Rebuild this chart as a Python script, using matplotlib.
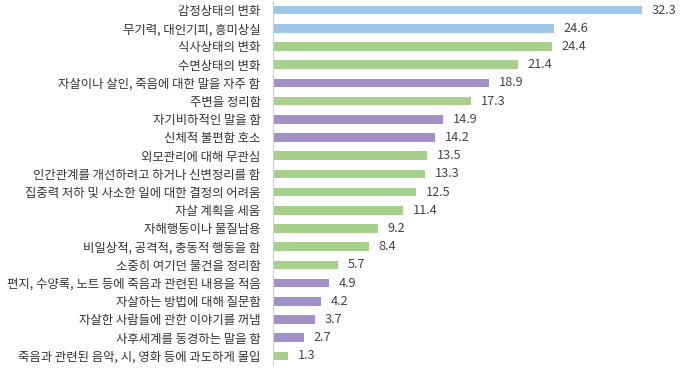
import numpy as np
import matplotlib.pyplot as plt

plt.rcParams['font.family'] = ['Noto Sans CJK KR', 'DejaVu Sans']

# 항목 (위에서 아래 순서)
labels = ['감정상태의 변화', '무기력, 대인기피, 흥미상실', '식사상태의 변화', '수면상태의 변화',
          '자살이나 살인, 죽음에 대한 말을 자주 함', '주변을 정리함', '자기비하적인 말을 함',
          '신체적 불편함 호소', '외모관리에 대해 무관심', '인간관계를 개선하려고 하거나 신변정리를 함',
          '집중력 저하 및 사소한 일에 대한 결정의 어려움', '자살 계획을 세움', '자해행동이나 물질남용',
          '비일상적, 공격적, 충동적 행동을 함', '소중히 여기던 물건을 정리함',
          '편지, 수양록, 노트 등에 죽음과 관련된 내용을 적음', '자살하는 방법에 대해 질문함',
          '자살한 사람들에 관한 이야기를 꺼냄', '사후세계를 동경하는 말을 함',
          '죽음과 관련된 음악, 시, 영화 등에 과도하게 몰입']
values = [32.3, 24.6, 24.4, 21.4, 18.9, 17.3, 14.9, 14.2, 13.5, 13.3,
          12.5, 11.4, 9.2, 8.4, 5.7, 4.9, 4.2, 3.7, 2.7, 1.3]
groups = ['감정', '감정', '행동', '행동', '언어', '행동', '언어', '언어', '행동', '행동',
          '행동', '행동', '행동', '행동', '행동', '언어', '언어', '언어', '언어', '행동']

group_colors = {'감정': '#9fc5e8', '행동': '#a8d08d', '언어': '#a290c7'}
colors = [group_colors[g] for g in groups]

fig = plt.figure(figsize=(6.8, 3.68), dpi=100)
ax = fig.add_axes([273 / 680, 3 / 368, 407 / 680, 364 / 368])

y = np.arange(len(labels))
ax.barh(y, values, height=0.48, color=colors)
ax.set_ylim(len(labels) - 0.5, -0.5)
ax.set_xlim(0, 35.6)

for yi, v in zip(y, values):
    ax.text(v + 0.85, yi, f'{v}', va='center', ha='left', fontsize=9.2, color='#444444')

ax.set_yticks(y)
ax.set_yticklabels(labels, fontsize=8.9, color='#333333')
ax.tick_params(axis='y', length=0, pad=9)
ax.set_xticks([])
for s in ['top', 'right', 'bottom']:
    ax.spines[s].set_visible(False)
ax.spines['left'].set_color('#d0d0d0')
ax.spines['left'].set_linewidth(0.8)

fig.savefig('out.png', dpi=100)
